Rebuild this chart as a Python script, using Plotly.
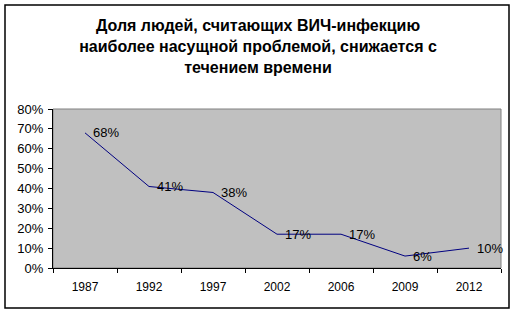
import plotly.graph_objects as go

years = ["1987", "1992", "1997", "2002", "2006", "2009", "2012"]
share_pct = [68, 41, 38, 17, 17, 6, 10]
y_ticks = [0, 10, 20, 30, 40, 50, 60, 70, 80]
title_lines = ["Доля людей, считающих ВИЧ-инфекцию",
               "наиболее насущной проблемой, снижается с",
               "течением времени"]

FONT = "Arial, Liberation Sans, sans-serif"

fig = go.Figure()
fig.add_trace(go.Scatter(
    x=years,
    y=share_pct,
    mode="lines",
    line=dict(color="#000080", width=1),
    hoverinfo="skip",
))

annotations = [
    dict(x=i, y=v, xref="x", yref="y", text=f"{v}%", showarrow=False,
         xanchor="left", yanchor="middle", xshift=6,
         font=dict(family=FONT, size=13, color="#000000"))
    for i, v in enumerate(share_pct)
]

fig.update_layout(
    width=516, height=314,
    margin=dict(l=53, r=15, t=109, b=46),
    paper_bgcolor="#FFFFFF",
    plot_bgcolor="#C0C0C0",
    showlegend=False,
    font=dict(family=FONT, size=12, color="#000000"),
    title=dict(
        text="<br>".join(title_lines),
        x=0.5, xref="container", xanchor="center",
        y=1 - 31 / 314, yref="container", yanchor="top",
        font=dict(family=FONT, size=16, color="#000000", weight="bold"),
    ),
    annotations=annotations,
    xaxis=dict(
        type="category",
        tickson="boundaries",
        ticks="outside", ticklen=4, tickcolor="#000000",
        showline=True, linecolor="#000000", linewidth=1,
        showgrid=False, zeroline=False,
        tickfont=dict(family=FONT, size=12),
        ticklabelstandoff=8,
        range=[-0.5, 6.5],
    ),
    yaxis=dict(
        range=[0, 80],
        tickvals=y_ticks,
        ticktext=[f"{v}%" for v in y_ticks],
        ticks="outside", ticklen=4, tickcolor="#000000",
        showline=True, linecolor="#000000", linewidth=1,
        showgrid=False, zeroline=False,
        tickfont=dict(family=FONT, size=13),
        ticklabelstandoff=2,
    ),
    shapes=[
        dict(type="rect", xref="paper", yref="paper",
             x0=0, x1=1, y0=0, y1=1,
             line=dict(color="#808080", width=1), layer="below"),
        dict(type="rect", xref="paper", yref="paper",
             x0=(5 - 53) / 448, x1=(509 - 53) / 448,
             y0=(268 - 308) / 159, y1=(268 - 5) / 159,
             line=dict(color="#000000", width=1.5), fillcolor="rgba(0,0,0,0)"),
    ],
)

fig.write_html("out.html", config={"displayModeBar": False},
               post_script="document.body.style.margin='0';")
